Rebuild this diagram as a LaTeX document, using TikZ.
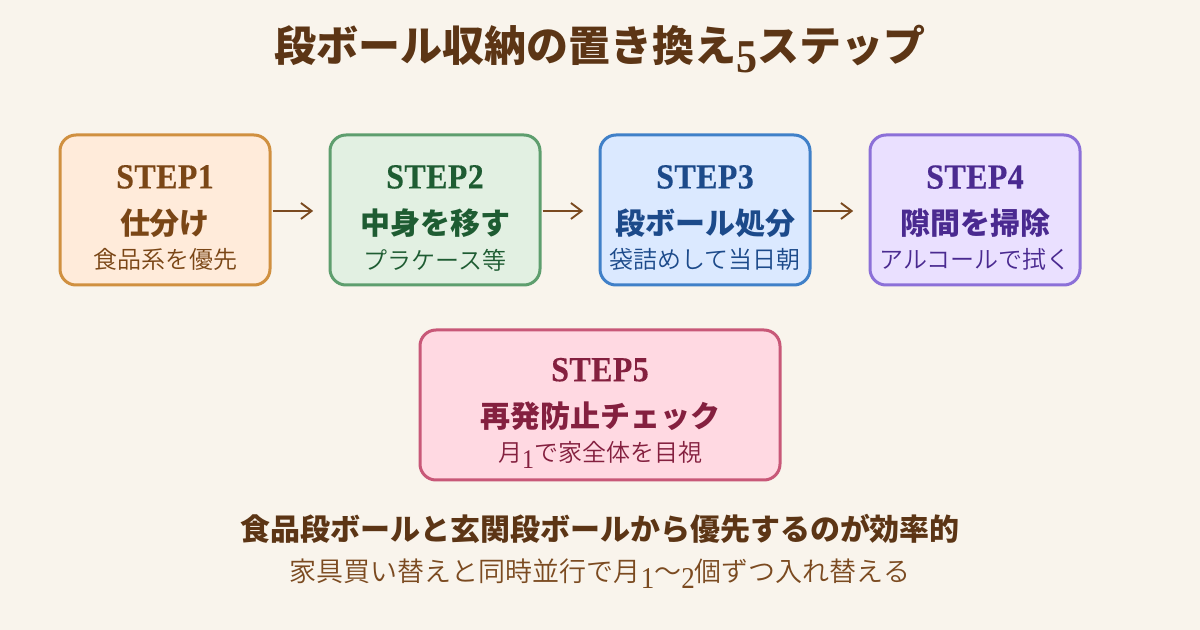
\documentclass[tikz,border=0pt]{standalone}
\usepackage{fontspec}
\setmainfont{Noto Sans CJK JP}
\newfontfamily\latinfont{Liberation Serif}
\newfontfamily\headfont{Liberation Serif Bold}[FakeBold=0.25,LetterSpace=1.2]
\newfontfamily\lightfont{Noto Sans CJK JP DemiLight}
\usetikzlibrary{arrows.meta}

\definecolor{bgcol}{HTML}{F9F4EC}
\definecolor{titlecol}{HTML}{5C3515}
\definecolor{arrowcol}{HTML}{7B4A20}

% one px of the picture is 0.75pt
\newcommand{\setpx}[1]{\fontsize{\dimexpr #1pt*3/4\relax}{\dimexpr #1pt*3/4\relax}\selectfont}
\newcommand{\dropnum}[1]{\raisebox{-0.26em}{\scalebox{1}[1.12]{\latinfont #1}}}
\newcommand{\steptext}[3]{%
  \rule{0pt}{29.5pt}{\setpx{32}\scalebox{1}[1.1]{\headfont #1}}\\[14pt]
  {\setpx{30}\bfseries #2}\\[7.5pt]
  {\setpx{24}\lightfont #3}}

\begin{document}
\begin{tikzpicture}[x=0.75pt, y=-0.75pt, >={Straight Barb[length=8pt,width=12pt]}, semithick, node distance=202.5pt]
\tikzstyle{stepbox}=[draw, line width=2.25pt, rounded corners=12pt, inner sep=0pt, align=center, minimum width=157.5pt, minimum height=112.5pt]
\tikzstyle{flow}=[->, line width=1.4pt, draw=arrowcol, shorten <=0.75pt, shorten >=11.5pt]
\useasboundingbox (0,0) rectangle (1200,630);
\fill[bgcol] (0,0) rectangle (1200,630);

\node[text=titlecol] (title) at (600,49) {\setpx{42}\bfseries 段ボール収納の置き換え\dropnum{5}ステップ};

\node[stepbox, fill={rgb,255:red,255;green,235;blue,218}, draw={rgb,255:red,208;green,144;blue,64}, text={rgb,255:red,122;green,70;blue,22}] (s1) at (165,210) {\steptext{STEP1}{仕分け}{食品系を優先}};
\node[stepbox, fill={rgb,255:red,226;green,240;blue,226}, draw={rgb,255:red,94;green,158;blue,110}, text={rgb,255:red,30;green,92;blue,50}] (s2)[right of=s1] {\steptext{STEP2}{中身を移す}{プラケース等}};
\node[stepbox, fill={rgb,255:red,219;green,233;blue,255}, draw={rgb,255:red,64;green,128;blue,200}, text={rgb,255:red,28;green,74;blue,138}] (s3)[right of=s2] {\steptext{STEP3}{段ボール処分}{袋詰めして当日朝}};
\node[stepbox, fill={rgb,255:red,234;green,224;blue,255}, draw={rgb,255:red,140;green,112;blue,216}, text={rgb,255:red,74;green,42;blue,144}] (s4)[right of=s3] {\steptext{STEP4}{隙間を掃除}{アルコールで拭く}};
\node[stepbox, minimum width=270pt, fill={rgb,255:red,255;green,217;blue,226}, draw={rgb,255:red,200;green,88;blue,120}, text={rgb,255:red,132;green,32;blue,63}] (s5) at (600,405) {\steptext{STEP5}{再発防止チェック}{月\dropnum{1}で家全体を目視}};

\node[text=titlecol] (note) at (600,529) {\setpx{30}\bfseries 食品段ボールと玄関段ボールから優先するのが効率的};
\node[text=arrowcol] (sub) at (600,574) {\setpx{27}\lightfont 家具買い替えと同時並行で月\dropnum{1}〜\dropnum{2}個ずつ入れ替える};

\path
([yshift=-0.75pt]s1.east) edge[flow] ([yshift=-0.75pt]s2.west)
([yshift=-0.75pt]s2.east) edge[flow] ([yshift=-0.75pt]s3.west)
([yshift=-0.75pt]s3.east) edge[flow] ([yshift=-0.75pt]s4.west);
\end{tikzpicture}
\end{document}
